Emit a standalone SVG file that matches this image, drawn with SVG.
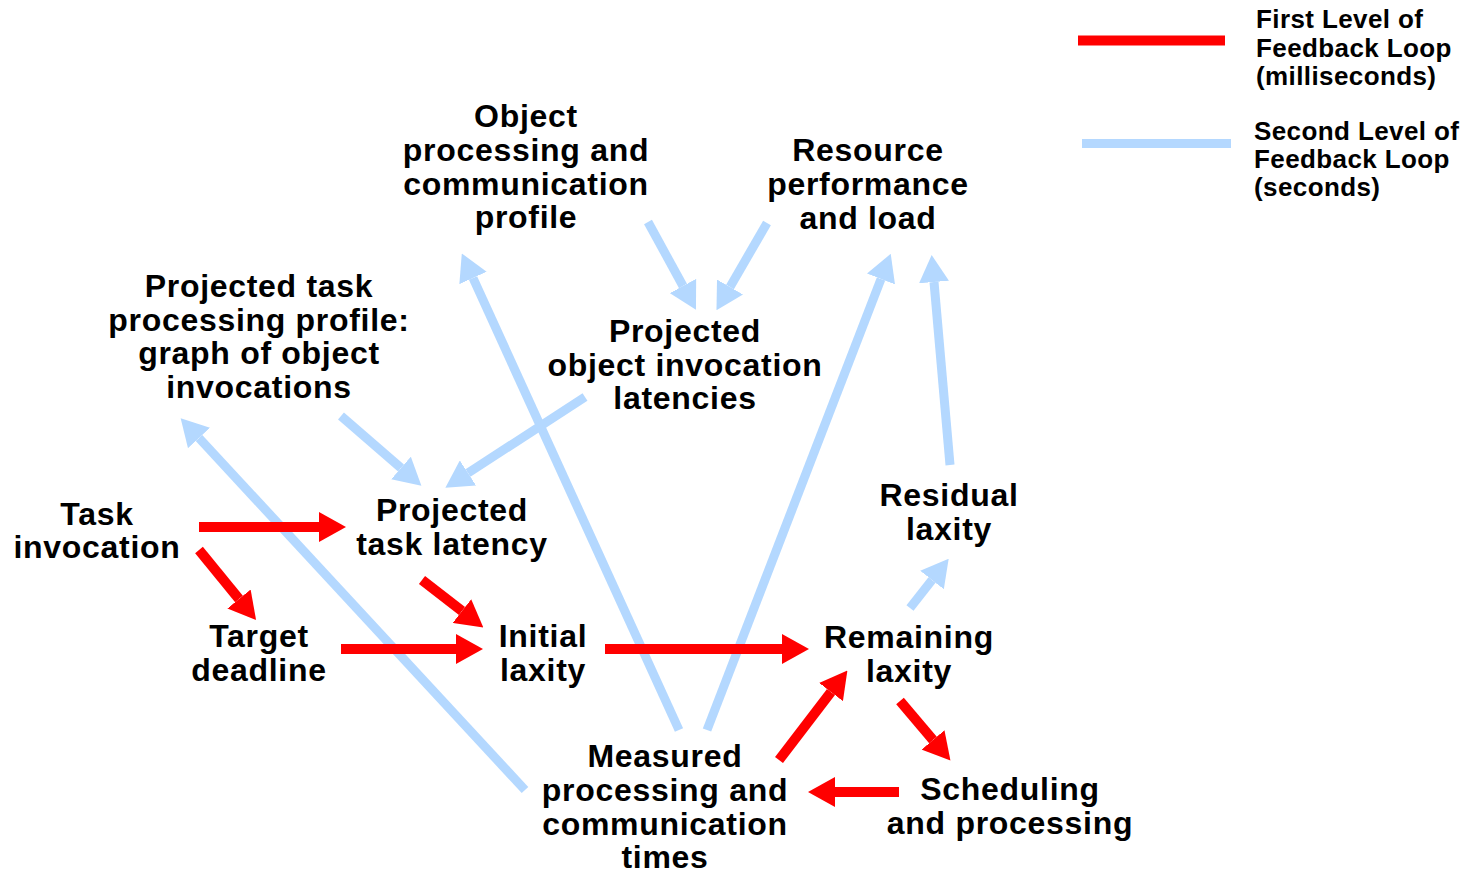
<svg xmlns="http://www.w3.org/2000/svg" width="1477" height="874" viewBox="0 0 1477 874">
  <style>
    .lbl { font-family: "Liberation Sans", Arial, sans-serif; font-weight: bold; font-size: 32px; letter-spacing: 0.7px; fill: #000; text-anchor: middle; }
    .leg { font-family: "Liberation Sans", Arial, sans-serif; font-weight: bold; font-size: 26px; letter-spacing: 0.4px; fill: #000; }
    .fast { stroke: #ff0000; stroke-width: 10; fill: none; marker-end: url(#headRed); }
    .slow { stroke: #b4d8ff; stroke-width: 9; fill: none; marker-end: url(#headBlue); }
  </style>
  <defs>
    <marker id="headRed" markerUnits="userSpaceOnUse" markerWidth="27" markerHeight="30" refX="0" refY="15" orient="auto">
      <path d="M0,0 L27,15 L0,30 Z" fill="#ff0000"/>
    </marker>
    <marker id="headBlue" markerUnits="userSpaceOnUse" markerWidth="27" markerHeight="30" refX="0" refY="15" orient="auto">
      <path d="M0,0 L27,15 L0,30 Z" fill="#b4d8ff"/>
    </marker>
  </defs>
  <rect width="1477" height="874" fill="#ffffff"/>

  <!-- second-level (seconds) feedback connectors -->
  <g id="connectors-slow">
    <line class="slow" x1="648" y1="222" x2="683" y2="286"/>
    <line class="slow" x1="767" y1="223" x2="730" y2="287"/>
    <line class="slow" x1="585" y1="397" x2="468" y2="473"/>
    <line class="slow" x1="341" y1="416" x2="401" y2="468"/>
    <line class="slow" x1="679" y1="730" x2="473" y2="278"/>
    <line class="slow" x1="707" y1="730" x2="881" y2="279"/>
    <line class="slow" x1="950" y1="465" x2="934" y2="282"/>
    <line class="slow" x1="910" y1="608" x2="932" y2="580"/>
    <line class="slow" x1="525" y1="790" x2="199" y2="438"/>
  </g>

  <!-- first-level (milliseconds) feedback connectors -->
  <g id="connectors-fast">
    <line class="fast" x1="199" y1="527" x2="319" y2="527"/>
    <line class="fast" x1="199" y1="550" x2="239" y2="599"/>
    <line class="fast" x1="422" y1="580" x2="462" y2="611"/>
    <line class="fast" x1="341" y1="649" x2="456" y2="649"/>
    <line class="fast" x1="605" y1="649" x2="782" y2="649"/>
    <line class="fast" x1="900" y1="701" x2="933" y2="740"/>
    <line class="fast" x1="899" y1="792" x2="835" y2="792"/>
    <line class="fast" x1="779" y1="760" x2="831" y2="692"/>
  </g>

  <g id="object-profile">
    <text class="lbl" x="526" y="127">Object</text>
    <text class="lbl" x="526" y="161">processing and</text>
    <text class="lbl" x="526" y="195">communication</text>
    <text class="lbl" x="526" y="228">profile</text>
  </g>

  <g id="resource-load">
    <text class="lbl" x="868" y="161">Resource</text>
    <text class="lbl" x="868" y="195">performance</text>
    <text class="lbl" x="868" y="229">and load</text>
  </g>

  <g id="task-processing-profile">
    <text class="lbl" x="259" y="297">Projected task</text>
    <text class="lbl" x="259" y="331">processing profile:</text>
    <text class="lbl" x="259" y="364">graph of object</text>
    <text class="lbl" x="259" y="398">invocations</text>
  </g>

  <g id="object-invocation-latencies">
    <text class="lbl" x="685" y="342">Projected</text>
    <text class="lbl" x="685" y="376">object invocation</text>
    <text class="lbl" x="685" y="409">latencies</text>
  </g>

  <g id="task-invocation">
    <text class="lbl" x="97" y="525">Task</text>
    <text class="lbl" x="97" y="558">invocation</text>
  </g>

  <g id="projected-task-latency">
    <text class="lbl" x="452" y="521">Projected</text>
    <text class="lbl" x="452" y="555">task latency</text>
  </g>

  <g id="residual-laxity">
    <text class="lbl" x="949" y="506">Residual</text>
    <text class="lbl" x="949" y="540">laxity</text>
  </g>

  <g id="target-deadline">
    <text class="lbl" x="259" y="647">Target</text>
    <text class="lbl" x="259" y="681">deadline</text>
  </g>

  <g id="initial-laxity">
    <text class="lbl" x="543" y="647">Initial</text>
    <text class="lbl" x="543" y="681">laxity</text>
  </g>

  <g id="remaining-laxity">
    <text class="lbl" x="909" y="648">Remaining</text>
    <text class="lbl" x="909" y="682">laxity</text>
  </g>

  <g id="measured-times">
    <text class="lbl" x="665" y="767">Measured</text>
    <text class="lbl" x="665" y="801">processing and</text>
    <text class="lbl" x="665" y="835">communication</text>
    <text class="lbl" x="665" y="868">times</text>
  </g>

  <g id="scheduling">
    <text class="lbl" x="1010" y="800">Scheduling</text>
    <text class="lbl" x="1010" y="834">and processing</text>
  </g>

  <!-- legend -->
  <g id="legend">
    <line x1="1078" y1="40.5" x2="1225" y2="40.5" stroke="#ff0000" stroke-width="10"/>
    <text class="leg" x="1256" y="28">First Level of</text>
    <text class="leg" x="1256" y="57">Feedback Loop</text>
    <text class="leg" x="1256" y="85">(milliseconds)</text>
    <line x1="1082" y1="143.5" x2="1231" y2="143.5" stroke="#b4d8ff" stroke-width="9"/>
    <text class="leg" x="1254" y="140">Second Level of</text>
    <text class="leg" x="1254" y="168">Feedback Loop</text>
    <text class="leg" x="1254" y="196">(seconds)</text>
  </g>
</svg>
